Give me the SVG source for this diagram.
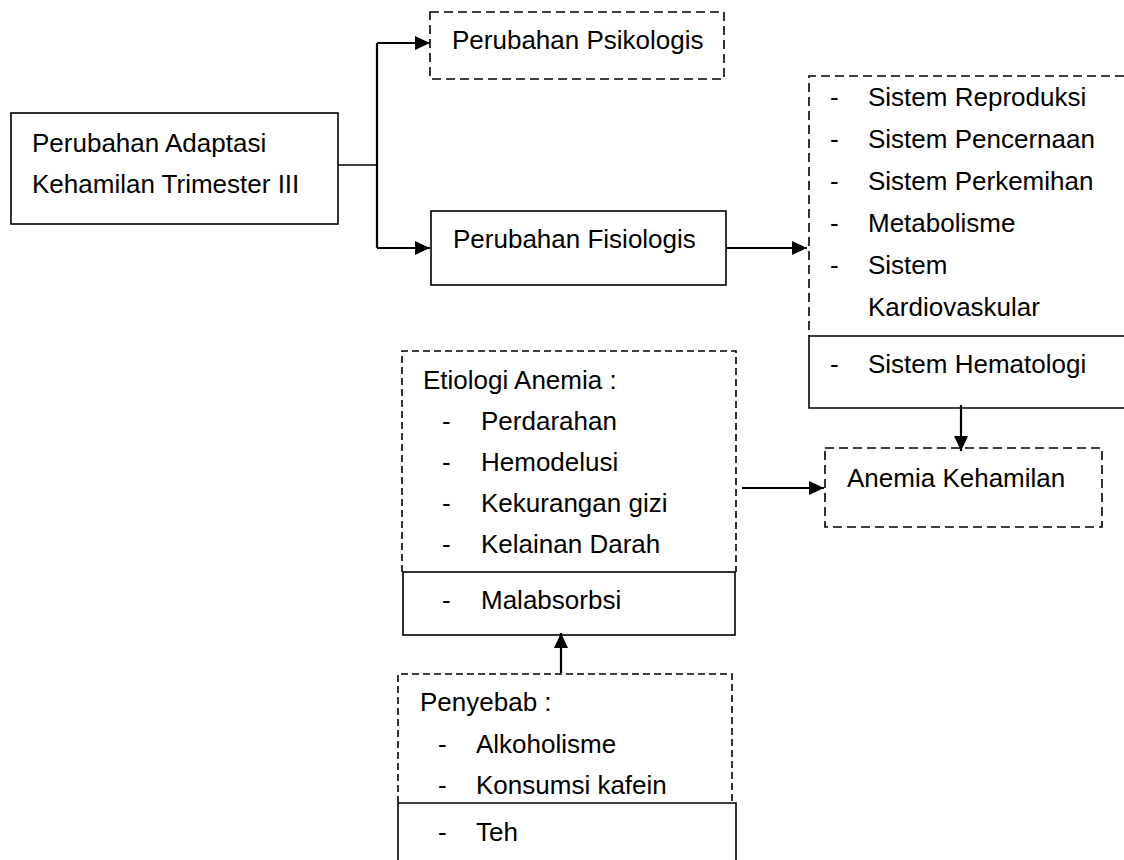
<svg xmlns="http://www.w3.org/2000/svg" width="1124" height="860" viewBox="0 0 1124 860">
<style>
text{font-family:"Liberation Sans",Arial,sans-serif;font-size:26px;fill:#000}
.s{fill:none;stroke:#000;stroke-width:1.6}
.d{fill:none;stroke:#000;stroke-width:1.6;stroke-dasharray:9 5}
.d2{fill:none;stroke:#000;stroke-width:1.6;stroke-dasharray:7 4}
.c{fill:none;stroke:#000;stroke-width:2.2}
.a{fill:none;stroke:#000;stroke-width:2.2;marker-end:url(#ah)}
</style>
<defs>
<marker id="ah" markerUnits="userSpaceOnUse" markerWidth="15" markerHeight="14" refX="15" refY="7" orient="auto">
<path d="M0,0 L15,7 L0,14 z" fill="#000"/>
</marker>
</defs>
<rect width="1124" height="860" fill="#fff"/>
<g id="connectors">
<path class="s" d="M338,165 H377"/>
<path class="c" d="M377,43 V248"/>
<path class="a" d="M377,43 H430"/>
<path class="a" d="M377,248 H430"/>
<path class="a" d="M726,248 H807"/>
<path class="a" d="M961,405 V451"/>
<path class="a" d="M742,488 H824"/>
<path class="a" d="M561,673 V633"/>
</g>
<g id="main">
<rect class="s" x="11" y="113" width="327" height="111"/>
<text x="32" y="152">Perubahan Adaptasi</text>
<text x="32" y="193">Kehamilan Trimester III</text>
</g>
<g id="psikologis">
<rect class="d" x="430" y="12" width="294" height="67"/>
<text x="452" y="49">Perubahan Psikologis</text>
</g>
<g id="fisiologis">
<rect class="s" x="431" y="211" width="295" height="74"/>
<text x="453" y="248">Perubahan Fisiologis</text>
</g>
<g id="sistem">
<path class="d" d="M1124,76 H809 V336"/>
<path class="s" d="M1124,336 H809 V408 H1124"/>
<text x="830" y="106">-</text><text x="868" y="106">Sistem Reproduksi</text>
<text x="830" y="148">-</text><text x="868" y="148">Sistem Pencernaan</text>
<text x="830" y="190">-</text><text x="868" y="190">Sistem Perkemihan</text>
<text x="830" y="232">-</text><text x="868" y="232">Metabolisme</text>
<text x="830" y="274">-</text><text x="868" y="274">Sistem</text>
<text x="868" y="316">Kardiovaskular</text>
<text x="830" y="373">-</text><text x="868" y="373">Sistem Hematologi</text>
</g>
<g id="anemia">
<rect class="d" x="825" y="448" width="277" height="79"/>
<text x="847" y="487">Anemia Kehamilan</text>
</g>
<g id="etiologi">
<path class="d2" d="M402,572 V351 H736 V572"/>
<rect class="s" x="403" y="572" width="332" height="63"/>
<text x="423" y="389">Etiologi Anemia :</text>
<text x="442" y="430">-</text><text x="481" y="430">Perdarahan</text>
<text x="442" y="471">-</text><text x="481" y="471">Hemodelusi</text>
<text x="442" y="512">-</text><text x="481" y="512">Kekurangan gizi</text>
<text x="442" y="553">-</text><text x="481" y="553">Kelainan Darah</text>
<text x="442" y="609">-</text><text x="481" y="609">Malabsorbsi</text>
</g>
<g id="penyebab">
<path class="d2" d="M398,803 V674 H732 V803"/>
<path class="s" d="M398,870 V803 H736 V870"/>
<text x="420" y="711">Penyebab :</text>
<text x="438" y="753">-</text><text x="476" y="753">Alkoholisme</text>
<text x="438" y="794">-</text><text x="476" y="794">Konsumsi kafein</text>
<text x="438" y="841">-</text><text x="476" y="841">Teh</text>
</g>
</svg>
